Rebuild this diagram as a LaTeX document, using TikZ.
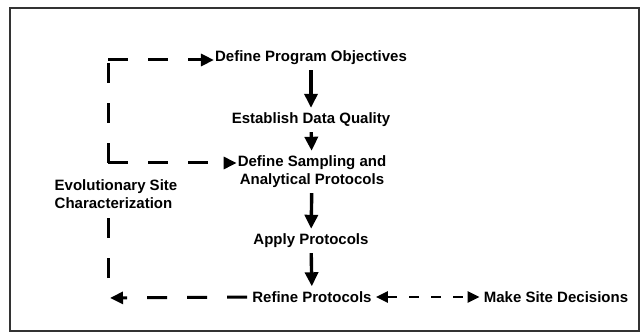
\documentclass[tikz,border=0pt]{standalone}
\usepackage{fontspec}
\setmainfont{Liberation Sans}
\usetikzlibrary{arrows.meta,positioning}
\tikzset{
  stepbox/.style={font=\fontsize{15}{18}\selectfont\bfseries, align=center, inner sep=1pt},
  flowarrow/.style={-{Triangle[length=14pt,width=13pt]}, line width=3.4pt, shorten <=4pt, shorten >=4pt},
  loopline/.style={dash pattern=on 20pt off 20pt, line width=3pt},
  looparrow/.style={loopline, -{Triangle[length=13pt,width=12pt]}},
  sidearrow/.style={{Triangle[length=12pt,width=11pt]}-{Triangle[length=12pt,width=11pt]}, dash pattern=on 10pt off 12pt, line width=2.6pt}
}

\begin{document}
\begin{tikzpicture}[x=1pt,y=-1pt]
\useasboundingbox (0,0) rectangle (644,336);
\draw[line width=1.4pt, black!80] (10,8) rectangle (639,331);

% main chain
\node[stepbox] (obj) at (311,58) {Define Program Objectives};
\node[stepbox] (qual) at (311,120) {Establish Data Quality};
\node[stepbox] (samp) at (312,172) {Define Sampling and\\Analytical Protocols};
\node[stepbox] (apply) at (311,241) {Apply Protocols};
\node[stepbox] (refine) at (312,297) {Refine Protocols};
\node[stepbox] (decide) at (556,297) {Make Site Decisions};
\node[stepbox, align=left] (evol) at (116,194) {Evolutionary Site\\Characterization};

\draw[flowarrow] (obj) -- (qual);
\draw[flowarrow] (qual) -- (samp);
\draw[flowarrow] (samp) -- (apply);
\draw[flowarrow] (apply) -- (refine);

% feedback loop
\coordinate (tl) at (108,60);
\coordinate (ml) at (108,163);
\coordinate (lb) at (108,278);
\coordinate (bl) at (110,298);
\draw[loopline] (ml) -- (tl);
\draw[looparrow] (tl) -- (tl -| obj.west);
\draw[looparrow] (ml) -- (ml -| samp.west);
\draw[loopline] (lb) -- (lb |- evol.south);
\draw[looparrow, shorten <=4pt] (refine.west) -- (bl);
\draw[sidearrow, shorten <=3pt, shorten >=3pt] (refine.east) -- (decide.west);
\end{tikzpicture}
\end{document}
